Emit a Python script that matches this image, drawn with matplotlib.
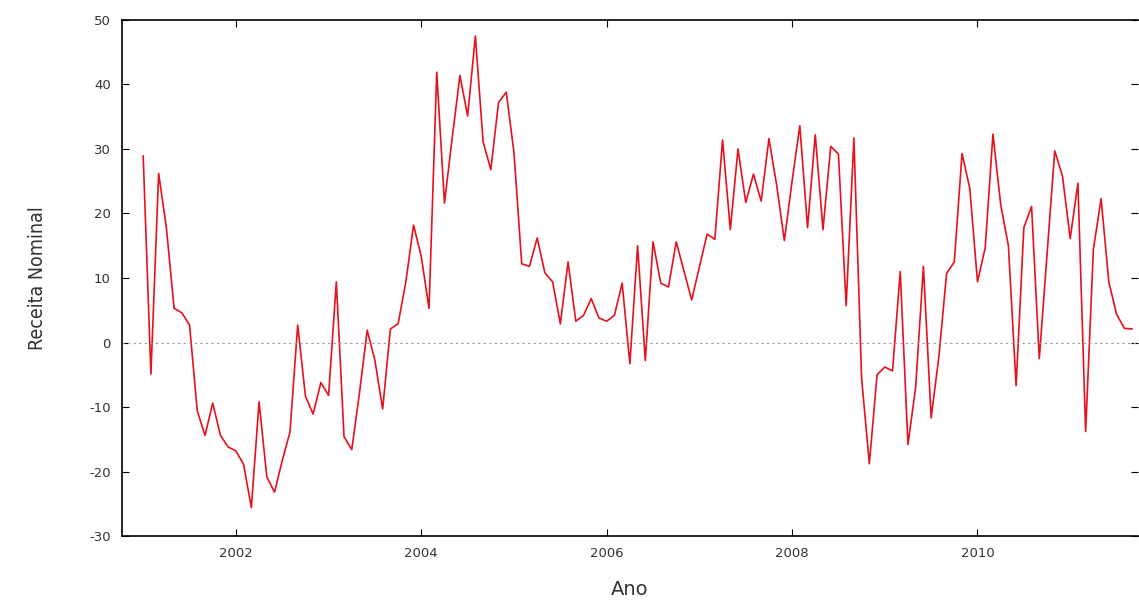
import matplotlib.pyplot as plt
import numpy as np

# monthly values, Jan 2001 .. Sep 2011
values = [
    28.9, -4.9, 26.2, 17.8, 5.3, 4.6, 2.7, -10.6, -14.4, -9.4, -14.4, -16.2,
    -16.8, -18.9, -25.6, -9.2, -20.8, -23.2, -18.3, -13.9, 2.7, -8.3, -11.1, -6.2,
    -8.2, 9.4, -14.6, -16.6, -7.8, 1.9, -2.8, -10.3, 2.1, 2.9, 9.4, 18.2,
    13.3, 5.3, 41.9, 21.6, 31.7, 41.4, 35.1, 47.5, 31.1, 26.8, 37.2, 38.8,
    29.4, 12.2, 11.8, 16.2, 10.8, 9.4, 2.9, 12.5, 3.3, 4.2, 6.8, 3.8,
    3.3, 4.2, 9.2, -3.3, 15.0, -2.8, 15.6, 9.2, 8.6, 15.6, 11.1, 6.6,
    11.7, 16.8, 16.0, 31.4, 17.5, 30.0, 21.7, 26.1, 21.9, 31.6, 24.4, 15.8,
    25.0, 33.6, 17.8, 32.2, 17.5, 30.4, 29.2, 5.7, 31.7, -5.6, -18.8, -5.0,
    -3.8, -4.4, 11.0, -15.8, -6.9, 11.8, -11.7, -2.2, 10.7, 12.5, 29.3, 23.9,
    9.4, 14.7, 32.3, 21.4, 15.0, -6.7, 17.8, 21.1, -2.5, 13.6, 29.7, 25.8,
    16.1, 24.7, -13.8, 14.4, 22.3, 9.4, 4.4, 2.2, 2.1,
]
start_year = 2001.0
years = start_year + np.arange(len(values)) / 12.0

plt.rcParams['axes.unicode_minus'] = False

fig = plt.figure(figsize=(11.39, 6.03), dpi=100)
ax = fig.add_axes([0.107, 0.111, 0.892, 0.856])
ax.plot(years, values, color='#e8101c', lw=1.2)
ax.axhline(0, color='#999999', lw=0.8, ls=(0, (2, 3)))

ax.set_xlim(2000.77, 2011.73)
ax.set_ylim(-30, 50)
ax.set_xticks([2002, 2004, 2006, 2008, 2010])
ax.set_yticks(range(-30, 51, 10))
ax.tick_params(direction='in', top=True, right=True, labelsize=9.5,
               labelcolor='#333333', length=5, pad=8)
ax.tick_params(axis='y', which='both', right=True, color='#bbbbbb')
ax.tick_params(axis='y', left=True, color='black')
for s in ax.spines.values():
    s.set_linewidth(1.2)
ax.spines['right'].set_visible(False)
ax.set_xlabel('Ano', fontsize=14, color='#333333', labelpad=14)
ax.set_ylabel('Receita Nominal', fontsize=14, color='#333333', labelpad=30,
              fontstretch='condensed')

fig.savefig('out.png', dpi=100)
